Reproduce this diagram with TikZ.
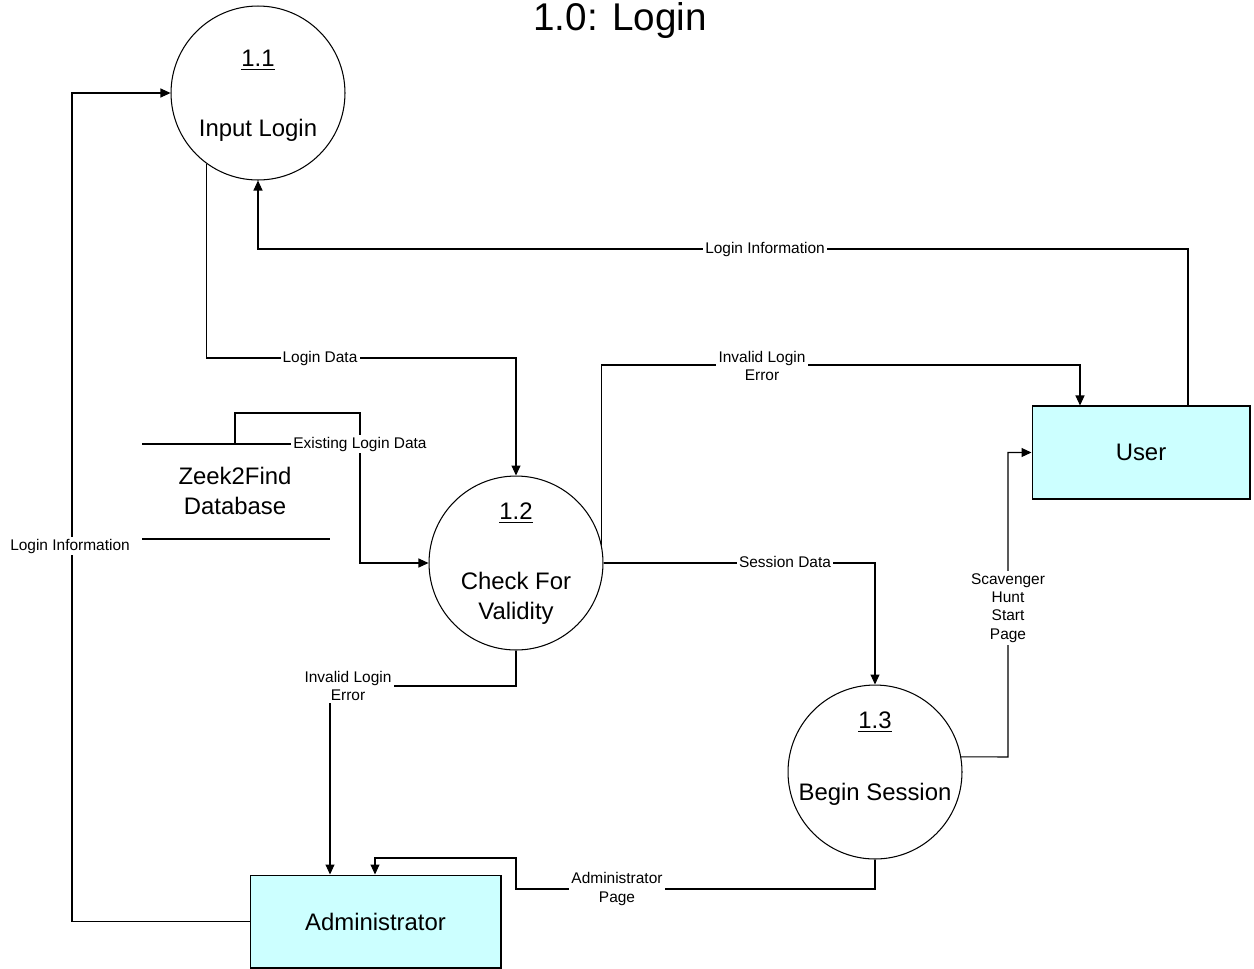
\documentclass[tikz,border=0pt]{standalone}
\usepackage{fontspec}
\setmainfont{Liberation Sans}
\usetikzlibrary{arrows.meta}
\definecolor{entcyan}{RGB}{204,255,255}

\tikzset{
  proc/.style={draw, circle, minimum size=3.48cm, inner sep=0pt, line width=0.6pt},
  ptext/.style={inner sep=0pt, align=center, font=\fontsize{13.6}{16}\selectfont},
  entity/.style={draw, fill=entcyan, line width=0.6pt, minimum height=1.86cm, font=\fontsize{13.6}{16}\selectfont},
  flow/.style={->, line width=0.6pt},
  lbl/.style={fill=white, inner sep=1.2pt, align=center, font=\fontsize{8.8}{10.4}\selectfont},
}

\begin{document}
\begin{tikzpicture}[x=0.02cm, y=-0.02cm, >={Triangle[length=2mm,width=1.8mm]}]
  \useasboundingbox (0,0) rectangle (1254,968);

  %coordinates
  \coordinate (LDbend)  at (516,358);
  \coordinate (LIbend)  at (1188,249);
  \coordinate (IEbend)  at (1080,365);
  \coordinate (IElow)   at (330,686);
  \coordinate (SHbend)  at (1008,757);
  \coordinate (APlow)   at (516,889);
  \coordinate (APhigh)  at (375,858);
  \coordinate (LIleft)  at (72,93);
  \coordinate (DBtop)   at (235,444);
  \coordinate (ELbend)  at (360,413);

  %title
  \node[font=\fontsize{22}{26}\selectfont, anchor=base] (title) at (620,30) {1.0: Login};

  %processes
  \node[proc] (P1) at (258,93) {};
  \node[ptext] (P1num) at (258,60) {\underline{1.1}};
  \node[ptext] (P1txt) at (258,130) {Input Login};

  \node[proc] (P2) at (516,563) {};
  \node[ptext] (P2num) at (516,513) {\underline{1.2}};
  \node[ptext] (P2txt) at (516,598) {Check For\\[1pt]Validity};

  \node[proc] (P3) at (875,772) {};
  \node[ptext] (P3num) at (875,722) {\underline{1.3}};
  \node[ptext] (P3txt) at (875,794) {Begin Session};

  %entities
  \node[entity, minimum width=4.36cm] (User) at (1141,452.5) {User};
  \node[entity, minimum width=5.02cm] (Admin) at (375.5,921.5) {Administrator};

  %data store
  \draw[line width=0.6pt] (142,444) -- (330,444);
  \draw[line width=0.6pt] (142,539) -- (330,539);
  \node[ptext] (DB) at (235,491) {Zeek2Find\\[1pt]Database};

  %flows
  \draw[flow] (P1.234) |- (LDbend) -- (P2.north);
  \draw[flow] (User.north -| LIbend) -- (LIbend) -| (P1.south);
  \draw[flow] (P2.12) |- (IEbend) -- (IEbend |- User.north);
  \draw[flow] (P2.east) -| (P3.north);
  \draw[flow] (P3.10) -- (SHbend) |- (User.west);
  \draw[flow] (P2.south) |- (IElow) -- (IElow |- Admin.north);
  \draw[flow] (P3.south) |- (APlow) |- (APhigh) -- (APhigh |- Admin.north);
  \draw[flow] (Admin.west) -| (LIleft) -- (P1.west);
  \draw[flow] (DBtop) |- (ELbend) |- (P2.west);

  %labels
  \node[lbl] (lLD)  at (320,358) {Login Data};
  \node[lbl] (lLI1) at (765,249) {Login Information};
  \node[lbl] (lIE1) at (762,366) {Invalid Login\\Error};
  \node[lbl] (lSD)  at (785,562) {Session Data};
  \node[lbl] (lSH)  at (1008,608) {Scavenger\\Hunt\\Start\\Page};
  \node[lbl] (lIE2) at (348,686) {Invalid Login\\Error};
  \node[lbl] (lAP)  at (617,889) {Administrator\\Page};
  \node[lbl] (lLI2) at (70,546) {Login Information};
  \node[lbl] (lEL)  at (360,444) {Existing Login Data};
\end{tikzpicture}
\end{document}
